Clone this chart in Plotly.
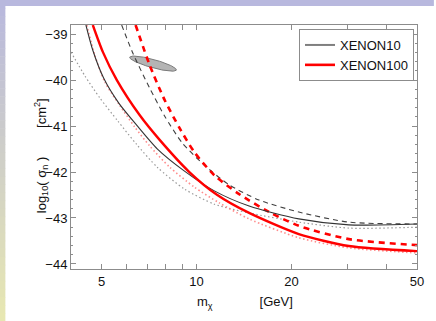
import numpy as np
import plotly.graph_objects as go

# ---------------- data ----------------
# XENON10 (black)
x10_solid_m = [4.46, 4.69, 5.08, 5.67, 6.46, 7.52, 9.16, 11.39, 14.68, 21.1, 30.4, 50]
x10_solid_y = [-38.8, -39.35, -39.96, -40.5, -40.98, -41.5, -41.98, -42.41, -42.74, -43.02, -43.15, -43.13]
x10_dash_m = [5.79, 6.28, 7.10, 7.92, 9.02, 10.59, 12.70, 15.79, 21.1, 30.4, 50]
x10_dash_y = [-38.8, -39.41, -40.17, -40.78, -41.37, -41.85, -42.28, -42.61, -42.87, -43.09, -43.13]
x10_dot_m = [4.0, 4.43, 4.94, 5.63, 6.46, 7.52, 9.16, 11.39, 14.68, 21.1, 30.4, 50]
x10_dot_y = [-39.39, -39.91, -40.39, -40.89, -41.40, -41.90, -42.37, -42.70, -42.89, -43.09, -43.22, -43.20]
# XENON100 (red)
x100_solid_m = [4.69, 5.05, 5.59, 6.60, 7.64, 9.49, 11.64, 14.68, 21.1, 30.4, 50]
x100_solid_y = [-38.8, -39.39, -40.0, -40.76, -41.30, -42.0, -42.5, -42.89, -43.35, -43.61, -43.72]
x100_dash_m = [6.41, 7.10, 7.92, 8.83, 9.85, 11.39, 13.65, 16.98, 21.1, 30.4, 50]
x100_dash_y = [-38.8, -39.67, -40.43, -41.04, -41.57, -42.07, -42.48, -42.87, -43.17, -43.46, -43.59]
x100_dot_m = [4.49, 4.76, 5.12, 5.71, 6.37, 7.10, 8.21, 9.85, 11.80, 14.68, 21.1, 30.4, 50]
x100_dot_y = [-38.8, -39.46, -40.04, -40.55, -41.02, -41.43, -41.89, -42.33, -42.67, -43.02, -43.43, -43.65, -43.76]
# allowed region (ellipse): major-axis end points and minor half-width (y units)
ell_end_m = [6.14, 8.63]
ell_end_y = [-39.5, -39.78]
ell_minor = 0.09

x_ticks = [5, 10, 20, 50]
x_minor = [4, 6, 7, 8, 9, 30, 40]
y_ticks = [-44, -43, -42, -41, -40, -39]

# ---------------- layout geometry ----------------
W, H = 436, 321
L, R, T, B = 71, 17, 25, 52
PW, PH = W - L - R, H - T - B
XR = [np.log10(4), np.log10(50)]
YR = [-44.11, -38.8]
sx = PW / (XR[1] - XR[0])   # px per decade
sy = PH / (YR[1] - YR[0])   # px per y unit

fig = go.Figure()

# ellipse polygon (computed in pixel-scaled space, then mapped back)
p0 = np.array([np.log10(ell_end_m[0]) * sx, ell_end_y[0] * sy])
p1 = np.array([np.log10(ell_end_m[1]) * sx, ell_end_y[1] * sy])
c = (p0 + p1) / 2
u = (p1 - p0) / 2
a = np.linalg.norm(u)
u = u / a
v = np.array([-u[1], u[0]])
b = ell_minor * sy
t = np.linspace(0, 2 * np.pi, 100)
pts = c[None, :] + a * np.cos(t)[:, None] * u[None, :] + b * np.sin(t)[:, None] * v[None, :]
fig.add_trace(go.Scatter(x=10 ** (pts[:, 0] / sx), y=pts[:, 1] / sy, mode="lines",
                         fill="toself", fillcolor="#b4b4b4",
                         line=dict(color="#7a7a7a", width=1), showlegend=False, hoverinfo="skip"))

def curve(m, y, color, width, dash):
    fig.add_trace(go.Scatter(x=m, y=y, mode="lines", showlegend=False, hoverinfo="skip",
                             line=dict(color=color, width=width, dash=dash, shape="spline", smoothing=0.7)))

curve(x10_dot_m, x10_dot_y, "#9a9a9a", 1.2, "1.5px,2.5px")
curve(x100_dot_m, x100_dot_y, "#ff8c8c", 1.6, "1.5px,2.5px")
curve(x10_dash_m, x10_dash_y, "#404040", 1.1, "5px,4px")
curve(x100_dash_m, x100_dash_y, "#ff0000", 2.6, "6px,5px")
curve(x10_solid_m, x10_solid_y, "#333333", 1.1, "solid")
curve(x100_solid_m, x100_solid_y, "#ff0000", 2.4, "solid")

# legend entries
fig.add_trace(go.Scatter(x=[None], y=[None], mode="lines", name="XENON10",
                         line=dict(color="#7f7f7f", width=2)))
fig.add_trace(go.Scatter(x=[None], y=[None], mode="lines", name="XENON100",
                         line=dict(color="#ff0000", width=2.6)))

font = "Liberation Sans, Arial, sans-serif"
axcol = "#8c8c8c"
fig.update_xaxes(type="log", range=XR, tickvals=x_ticks, ticktext=[str(v) for v in x_ticks],
                 ticks="inside", ticklen=5, tickcolor=axcol, showline=True, linecolor=axcol,
                 mirror="allticks", showgrid=False, zeroline=False,
                 tickfont=dict(family=font, size=13, color="#111"),
                 minor=dict(tickvals=x_minor, ticks="inside", ticklen=5, tickcolor=axcol))
fig.update_yaxes(range=YR, tickvals=y_ticks, ticks="inside", ticklen=5, tickcolor=axcol,
                 showline=True, linecolor=axcol, mirror="allticks", showgrid=False, zeroline=False,
                 tickfont=dict(family=font, size=13, color="#111"),
                 minor=dict(dtick=0.2, ticks="inside", ticklen=2, tickcolor=axcol))

nb = "\u00a0"
annotations = [
    dict(text="log<sub>10</sub>(" + nb + "σ<sub>n</sub>" + nb + ")" + nb * 8 + "[cm<sup>2</sup>]",
         xref="paper", yref="paper", x=(30 - L) / PW, y=(T + PH - 156) / PH, textangle=-90,
         showarrow=False, font=dict(family=font, size=13, color="#111")),
    dict(text="m<sub>χ</sub>" + nb * 13 + "[GeV]", xref="paper", yref="paper",
         x=(246 - L) / PW, y=(T + PH - 302) / PH, showarrow=False, yanchor="middle",
         font=dict(family=font, size=13, color="#111")),
]

# slide-style border: top band + left gradient band
shapes = []
def px2paper(xp, yp):
    return (xp - L) / PW, (T + PH - yp) / PH
x0p, y0p = px2paper(0, 0)
x1p, y1p = px2paper(W, 6)
shapes.append(dict(type="rect", xref="paper", yref="paper", x0=x0p, x1=x1p, y0=y1p, y1=y0p + 0.01,
                   fillcolor="rgb(184,184,222)", line=dict(width=0), layer="below"))
nbands = 40
c_top = np.array([184, 184, 222])
c_bot = np.array([232, 232, 178])
for i in range(nbands):
    f = (i + 0.5) / nbands
    col = (c_top * (1 - f) + c_bot * f).astype(int)
    ya = i * H / nbands
    yb = (i + 1) * H / nbands + 0.5
    xa, ya_p = px2paper(0, ya)
    xb, yb_p = px2paper(5, yb)
    shapes.append(dict(type="rect", xref="paper", yref="paper", x0=xa - 0.01, x1=xb,
                       y0=yb_p, y1=ya_p, fillcolor=f"rgb({col[0]},{col[1]},{col[2]})",
                       line=dict(width=0), layer="below"))

fig.update_layout(
    width=W, height=H, margin=dict(l=L, r=R, t=T, b=B),
    paper_bgcolor="white", plot_bgcolor="white",
    showlegend=True,
    legend=dict(x=(416 - L) / PW, y=(T + PH - 29) / PH, xanchor="right", yanchor="top",
                bgcolor="white", bordercolor="#8c8c8c", borderwidth=1,
                font=dict(family=font, size=13, color="#111"), itemwidth=30,
                tracegroupgap=0),
    annotations=annotations, shapes=shapes,
)

fig.write_html("out.html", config={"displayModeBar": False},
               post_script="document.documentElement.style.margin='0';"
                           "document.body.style.margin='0';document.body.style.padding='0';"
                           "document.body.style.overflow='hidden';")
